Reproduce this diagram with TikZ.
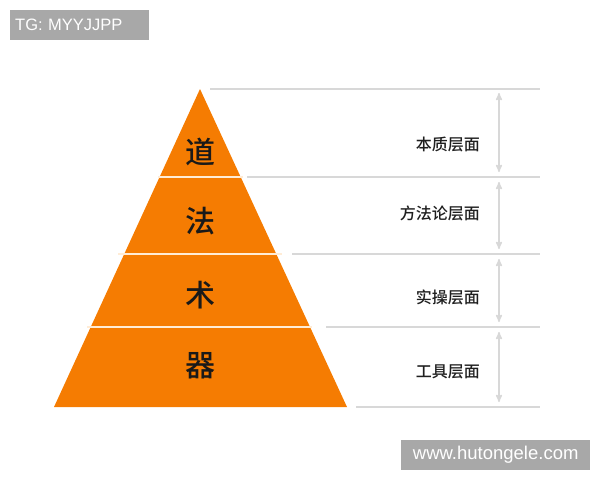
\documentclass[tikz,border=0pt]{standalone}
\usepackage{fontspec}
\setmainfont{Liberation Sans}
\newfontfamily\cjk{Noto Sans CJK SC}
\newfontfamily\cjkmid{Noto Sans CJK SC Medium}
\usetikzlibrary{arrows}
\usetikzlibrary{positioning}
\definecolor{pyrorange}{RGB}{245,124,2}
\definecolor{guidegray}{RGB}{216,216,216}
\definecolor{markgray}{RGB}{168,168,168}
\definecolor{seamcream}{RGB}{255,236,214}
\tikzset{
    layer/.style={
           fill=pyrorange,
           draw=none,
           },
    seam/.style={
           draw=seamcream,
           line width=2pt,
           },
    guide/.style={
           draw=guidegray,
           line width=2pt,
           },
    span/.style={
           draw=guidegray,
           line width=1.5pt,
           stealth'-stealth',
           },
    glyph/.style={
           font=\cjkmid\fontsize{30}{30}\selectfont,
           text=black!90,
           inner sep=0pt,
           },
    levelname/.style={
           font=\cjkmid\fontsize{16}{16}\selectfont,
           text=black!88,
           anchor=east,
           inner sep=0pt,
           },
    markbox/.style={
           fill=markgray,
           text=white,
           anchor=north west,
           inner sep=0pt,
           },
}
\begin{document}
\begin{tikzpicture}[x=1pt,y=-1pt]
	\useasboundingbox (0,0) rectangle (600,480);
	% pyramid
	\coordinate (apex) at (200,89);
	\coordinate (baseL) at (54,407);
	\coordinate (baseR) at (347,407);
	\fill[layer] (apex) -- (baseL) -- (baseR) -- cycle;
	\path[seam] (158,177) -- (243,177);
	\path[seam] (118,254) -- (282,254);
	\path[seam] (87,327) -- (312,327);

	\node[glyph] (dao) at (200,152) {道};
	\node[glyph] (fa)  at (200,221) {法};
	\node[glyph] (shu) at (200,295) {术};
	\node[glyph] (qi)  at (200,366) {器};

	% guide lines on the right
	\coordinate (g0) at (210,89);  \coordinate (e0) at (540,89);
	\coordinate (g1) at (247,177); \coordinate (e1) at (540,177);
	\coordinate (g2) at (292,254); \coordinate (e2) at (540,254);
	\coordinate (g3) at (326,327); \coordinate (e3) at (540,327);
	\coordinate (g4) at (356,407); \coordinate (e4) at (540,407);
	\foreach \i in {0,...,4}
		\path[guide] (g\i) -- (e\i);

	\coordinate (a0) at (499,93);  \coordinate (b0) at (499,172);
	\coordinate (a1) at (499,182); \coordinate (b1) at (499,249);
	\coordinate (a2) at (499,259); \coordinate (b2) at (499,322);
	\coordinate (a3) at (499,332); \coordinate (b3) at (499,402);
	\foreach \i in {0,...,3}
		\draw[span] (a\i) -- (b\i);

	\node[levelname] (benzhi) at (480,144) {本质层面};
	\node[levelname] (fangfa) at (480,213) {方法论层面};
	\node[levelname] (shicao) at (480,297) {实操层面};
	\node[levelname] (gongju) at (480,372) {工具层面};

	% marks
	\node[markbox, minimum width=139pt, minimum height=30pt, text width=135pt, align=left,
		font=\fontsize{16.5}{16.5}\selectfont] (tg) at (10,10) {\hspace*{3pt}TG: MYYJJPP};
	\node[markbox, minimum width=189pt, minimum height=30pt,
		font=\fontsize{18.5}{18.5}\selectfont] (site) at (401,440) {www.hutongele.com};
\end{tikzpicture}
\end{document}
